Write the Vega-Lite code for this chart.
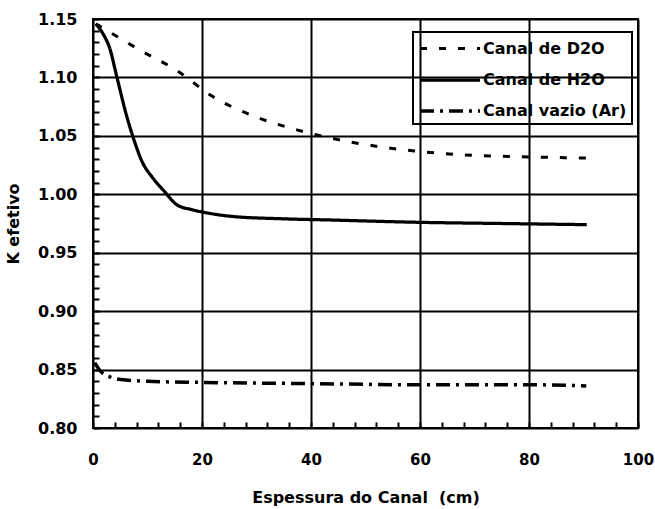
{
  "$schema": "https://vega.github.io/schema/vega-lite/v6.json",
  "autosize": "none",
  "width": 545,
  "height": 409,
  "padding": {"left": 93, "top": 19, "right": 17, "bottom": 81},
  "background": "white",
  "config": {
    "view": {"stroke": "black", "strokeWidth": 2},
    "font": "DejaVu Sans"
  },
  "data": {
    "values": [
      {"x": 0.5, "k": 1.146, "series": "Canal de D2O"},
      {"x": 3, "k": 1.139, "series": "Canal de D2O"},
      {"x": 8, "k": 1.125, "series": "Canal de D2O"},
      {"x": 16, "k": 1.104, "series": "Canal de D2O"},
      {"x": 21.5, "k": 1.085, "series": "Canal de D2O"},
      {"x": 30, "k": 1.066, "series": "Canal de D2O"},
      {"x": 36, "k": 1.057, "series": "Canal de D2O"},
      {"x": 40, "k": 1.052, "series": "Canal de D2O"},
      {"x": 47, "k": 1.045, "series": "Canal de D2O"},
      {"x": 59, "k": 1.037, "series": "Canal de D2O"},
      {"x": 67, "k": 1.034, "series": "Canal de D2O"},
      {"x": 80, "k": 1.032, "series": "Canal de D2O"},
      {"x": 90.6, "k": 1.031, "series": "Canal de D2O"},
      {"x": 0.5, "k": 1.146, "series": "Canal de H2O"},
      {"x": 2, "k": 1.136, "series": "Canal de H2O"},
      {"x": 3, "k": 1.126, "series": "Canal de H2O"},
      {"x": 4.4, "k": 1.1, "series": "Canal de H2O"},
      {"x": 6, "k": 1.07, "series": "Canal de H2O"},
      {"x": 7.7, "k": 1.044, "series": "Canal de H2O"},
      {"x": 9, "k": 1.028, "series": "Canal de H2O"},
      {"x": 10.8, "k": 1.015, "series": "Canal de H2O"},
      {"x": 13, "k": 1.003, "series": "Canal de H2O"},
      {"x": 15.4, "k": 0.991, "series": "Canal de H2O"},
      {"x": 18, "k": 0.987, "series": "Canal de H2O"},
      {"x": 21, "k": 0.984, "series": "Canal de H2O"},
      {"x": 25.7, "k": 0.981, "series": "Canal de H2O"},
      {"x": 35, "k": 0.979, "series": "Canal de H2O"},
      {"x": 43.5, "k": 0.978, "series": "Canal de H2O"},
      {"x": 60, "k": 0.976, "series": "Canal de H2O"},
      {"x": 75, "k": 0.975, "series": "Canal de H2O"},
      {"x": 90.6, "k": 0.974, "series": "Canal de H2O"},
      {"x": 0.3, "k": 0.856, "series": "Canal vazio (Ar)"},
      {"x": 1.5, "k": 0.848, "series": "Canal vazio (Ar)"},
      {"x": 3, "k": 0.844, "series": "Canal vazio (Ar)"},
      {"x": 6, "k": 0.841, "series": "Canal vazio (Ar)"},
      {"x": 10, "k": 0.84, "series": "Canal vazio (Ar)"},
      {"x": 20, "k": 0.839, "series": "Canal vazio (Ar)"},
      {"x": 40, "k": 0.838, "series": "Canal vazio (Ar)"},
      {"x": 60, "k": 0.837, "series": "Canal vazio (Ar)"},
      {"x": 80, "k": 0.837, "series": "Canal vazio (Ar)"},
      {"x": 90.5, "k": 0.836, "series": "Canal vazio (Ar)"}
    ]
  },
  "mark": {"type": "line", "stroke": "black", "interpolate": "monotone", "clip": true},
  "encoding": {
    "x": {
      "field": "x", "type": "quantitative",
      "scale": {"domain": [0, 100], "nice": false},
      "axis": {
        "title": "Espessura do Canal\u00a0 (cm)",
        "titleFont": "DejaVu Sans", "titleFontSize": 16, "titleFontWeight": "bold", "titlePadding": 22,
        "values": [0,4,8,12,16,20,24,28,32,36,40,44,48,52,56,60,64,68,72,76,80,84,88,92,96,100],
        "labelExpr": "datum.value % 20 == 0 ? format(datum.value, 'd') : ''",
        "labelFont": "DejaVu Sans", "labelFontSize": 15, "labelFontWeight": "bold", "labelColor": "black",
        "labelPadding": 24, "labelFlush": false, "labelOverlap": false,
        "offset": -6, "ticks": true, "tickSize": 6, "tickColor": "black", "tickWidth": 2, "tickOpacity": 1,
        "domain": false, "zindex": 1,
        "grid": true, "gridColor": "black", "gridWidth": 2,
        "gridDash": {"condition": {"test": "datum.value % 20 == 0", "value": [1, 0]}, "value": [0, 1000]}
      }
    },
    "y": {
      "field": "k", "type": "quantitative",
      "scale": {"domain": [0.8, 1.15], "nice": false, "zero": false},
      "axis": {
        "title": "K efetivo",
        "titleFont": "DejaVu Sans", "titleFontSize": 16, "titleFontWeight": "bold", "titlePadding": 16,
        "values": [0.8,0.81,0.82,0.83,0.84,0.85,0.86,0.87,0.88,0.89,0.9,0.91,0.92,0.93,0.94,0.95,0.96,0.97,0.98,0.99,1.0,1.01,1.02,1.03,1.04,1.05,1.06,1.07,1.08,1.09,1.1,1.11,1.12,1.13,1.14,1.15],
        "labelExpr": "round(datum.value * 100) % 5 == 0 ? format(datum.value, '.2f') : ''",
        "labelFont": "DejaVu Sans", "labelFontSize": 16, "labelFontWeight": "bold", "labelColor": "black",
        "labelPadding": 16, "labelFlush": false, "labelOverlap": false,
        "offset": -6, "ticks": true, "tickSize": 6, "tickColor": "black", "tickWidth": 2, "tickOpacity": 1,
        "domain": false, "zindex": 1,
        "grid": true, "gridColor": "black", "gridWidth": 2,
        "gridDash": {"condition": {"test": "round(datum.value * 100) % 5 == 0", "value": [1, 0]}, "value": [0, 1000]}
      }
    },
    "strokeDash": {
      "field": "series", "type": "nominal",
      "scale": {"domain": ["Canal de D2O", "Canal de H2O", "Canal vazio (Ar)"], "range": [[7, 12], [1, 0], [14, 6, 3, 6]]},
      "legend": {
        "title": null, "orient": "none", "legendX": 320, "legendY": 13,
        "fillColor": "white", "strokeColor": "black",
        "padding": 5, "rowPadding": 11,
        "symbolType": "M-3,0H3", "symbolSize": 400, "symbolOffset": 20, "symbolStrokeColor": "black", "symbolStrokeWidth": 3,
        "labelFont": "DejaVu Sans", "labelFontSize": 16, "labelFontWeight": "bold", "labelColor": "black", "labelOffset": 21,
        "encode": {"legend": {"update": {"strokeWidth": {"value": 2}}}}
      }
    },
    "strokeWidth": {
      "field": "series", "type": "nominal",
      "scale": {"domain": ["Canal de D2O", "Canal de H2O", "Canal vazio (Ar)"], "range": [3, 3.5, 2]},
      "legend": null
    }
  }
}
